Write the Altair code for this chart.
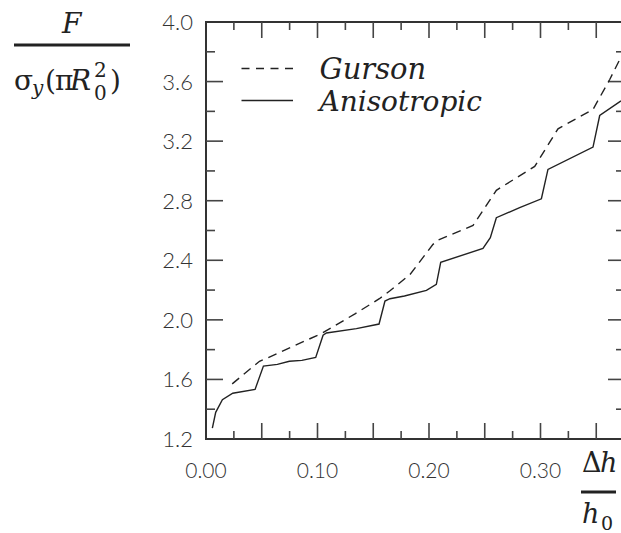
import altair as alt
import pandas as pd

# Normalised displacement (dh/h0) and normalised force for each model
gurson_dh = [0.0235, 0.048, 0.0545, 0.104, 0.134, 0.1555, 0.165, 0.183, 0.2036,
             0.2085, 0.2395, 0.2604, 0.2948, 0.3157, 0.3471, 0.3621, 0.3722]
gurson_f = [1.570, 1.722, 1.742, 1.910, 2.042, 2.142, 2.195, 2.305, 2.507,
            2.536, 2.634, 2.870, 3.030, 3.283, 3.413, 3.614, 3.765]

aniso_dh = [0.0057, 0.0087, 0.0147, 0.024, 0.044, 0.0515, 0.064, 0.0748, 0.086,
            0.0984, 0.1050, 0.108, 0.1349, 0.1552, 0.1605, 0.165, 0.178, 0.1977,
            0.2066, 0.2105, 0.2484, 0.2550, 0.2604, 0.2813, 0.3008, 0.3067,
            0.3471, 0.3531, 0.3722]
aniso_f = [1.273, 1.379, 1.464, 1.507, 1.533, 1.690, 1.701, 1.722, 1.728,
           1.748, 1.897, 1.912, 1.941, 1.972, 2.126, 2.142, 2.160, 2.198,
           2.238, 2.386, 2.480, 2.552, 2.686, 2.753, 2.813, 3.010,
           3.160, 3.372, 3.470]

# Axis labels and tick positions
x_labels = [0.0, 0.1, 0.2, 0.3]
x_ticks_major = [0.05, 0.1, 0.15, 0.2, 0.25, 0.3, 0.35]
x_ticks_minor = [0.025, 0.075, 0.125, 0.175, 0.225, 0.275, 0.325]
y_labels = [1.2, 1.6, 2.0, 2.4, 2.8, 3.2, 3.6, 4.0]
y_ticks_major = [1.6, 2.0, 2.4, 2.8, 3.2, 3.6]
y_ticks_minor = [1.4, 1.8, 2.2, 2.6, 3.0, 3.4, 3.8]

gurson = pd.DataFrame({"dh": gurson_dh, "f": gurson_f})
aniso = pd.DataFrame({"dh": aniso_dh, "f": aniso_f})

W, H = 415, 417
X_EDGE = W + 4          # right frame sits just past the visible area
INK = "#222222"
FRAME = "#333333"
TICK = "#444444"
SERIF = "DejaVu Serif"
SANS = "Lato"

x_scale = alt.Scale(domain=[0, 0.3722], nice=False, zero=False)
y_scale = alt.Scale(domain=[1.2, 4.0], nice=False, zero=False)


def xq(field):
    return alt.X(f"{field}:Q", scale=x_scale, axis=None)


def yq(field):
    return alt.Y(f"{field}:Q", scale=y_scale, axis=None)


gurson_line = alt.Chart(gurson).mark_line(strokeDash=[9, 6]).encode(
    x=xq("dh"), y=yq("f"),
    color=alt.value(INK), strokeWidth=alt.value(1.4))

aniso_line = alt.Chart(aniso).mark_line().encode(
    x=xq("dh"), y=yq("f"),
    color=alt.value(INK), strokeWidth=alt.value(1.4))


def x_tick_marks(values, size):
    """Inward ticks on the bottom and top edges at the given data values."""
    base = alt.Chart(pd.DataFrame({"v": values})).mark_rule()
    style = dict(color=alt.value(TICK), strokeWidth=alt.value(1.6),
                 opacity=alt.value(1))
    return [
        base.encode(x=xq("v"), y=alt.value(H), y2=alt.value(H - size), **style),
        base.encode(x=xq("v"), y=alt.value(0), y2=alt.value(size), **style),
    ]


def y_tick_marks(values, size):
    """Inward ticks on the left and right edges at the given data values."""
    base = alt.Chart(pd.DataFrame({"v": values})).mark_rule()
    style = dict(color=alt.value(TICK), strokeWidth=alt.value(1.6),
                 opacity=alt.value(1))
    return [
        base.encode(y=yq("v"), x=alt.value(0), x2=alt.value(size), **style),
        base.encode(y=yq("v"), x=alt.value(X_EDGE), x2=alt.value(X_EDGE - size),
                    **style),
    ]


ticks = (x_tick_marks(x_ticks_major, 16) + x_tick_marks(x_ticks_minor, 8)
         + y_tick_marks(y_ticks_major, 17) + y_tick_marks(y_ticks_minor, 9))

# Tick labels, placed through the scales
x_tick_labels = alt.Chart(pd.DataFrame({"v": x_labels})).mark_text(
    font=SANS, fontWeight=300, fontSize=21, color="#333333",
    align="center", baseline="alphabetic"
).encode(x=xq("v"), y=alt.value(H + 39), text=alt.Text("v:Q", format=".2f"))

y_tick_labels = alt.Chart(pd.DataFrame({"v": y_labels})).mark_text(
    font=SANS, fontWeight=300, fontSize=22, color="#333333",
    align="right", baseline="alphabetic", dy=8
).encode(y=yq("v"), x=alt.value(-13), text=alt.Text("v:Q", format=".1f"))

blank = alt.Data(values=[{}])

# Plot frame (its right edge lies just outside the visible area)
frame = alt.Chart(blank).mark_rect(fillOpacity=0).encode(
    x=alt.value(0), x2=alt.value(X_EDGE), y=alt.value(0), y2=alt.value(H),
    stroke=alt.value(FRAME), strokeWidth=alt.value(2))


def hline(x1, x2, y, width, dash=None, color=INK):
    kw = dict(color=color, strokeWidth=width)
    if dash:
        kw["strokeDash"] = dash
    return alt.Chart(blank).mark_rule(**kw).encode(
        x=alt.value(x1), x2=alt.value(x2), y=alt.value(y))


def text(t, x, y, size, style="normal", font=SERIF):
    return alt.Chart(blank).mark_text(
        text=t, font=font, fontSize=size, fontStyle=style, align="left",
        baseline="alphabetic", color=INK
    ).encode(x=alt.value(x), y=alt.value(y))


# Legend
legend = [
    hline(35.5, 87, 46.5, 1.4, [8, 6.5]),
    text("Gurson", 113.5, 57, 29, "italic"),
    hline(35.5, 87, 78.5, 1.4),
    text("Anisotropic", 113.5, 89, 28, "italic"),
]

# Vertical axis title: F / sigma_y (pi R_0^2)
y_title = [
    text("F", -144, 11, 28, "italic"),
    hline(-192, -76, 23, 3),
    text("σ", -192, 68, 28),
    text("y", -174, 73, 20, "italic"),
    text("(", -161, 68, 28),
    text("π", -151, 68, 28),
    text("R", -136, 68, 28, "italic"),
    text("2", -112, 54.5, 20),
    text("0", -112, 78, 20),
    text(")", -96, 68, 28),
]

# Horizontal axis title: dh / h0
x_title = [
    text("Δ", 376, 450, 27),
    text("h", 394, 450, 27, "italic"),
    hline(375, 410, 470, 3),
    text("h", 376, 501, 27, "italic"),
    text("0", 395, 508, 19),
]

chart = alt.layer(
    frame, *ticks, gurson_line, aniso_line, x_tick_labels, y_tick_labels,
    *legend, *y_title, *x_title
).properties(
    width=W, height=H,
    padding={"left": 206, "top": 22, "right": 0, "bottom": 94},
    autosize=alt.AutoSizeParams(type="none"),
).configure_view(stroke=None)

chart.save("out.html", embed_options={"renderer": "svg", "actions": False})
